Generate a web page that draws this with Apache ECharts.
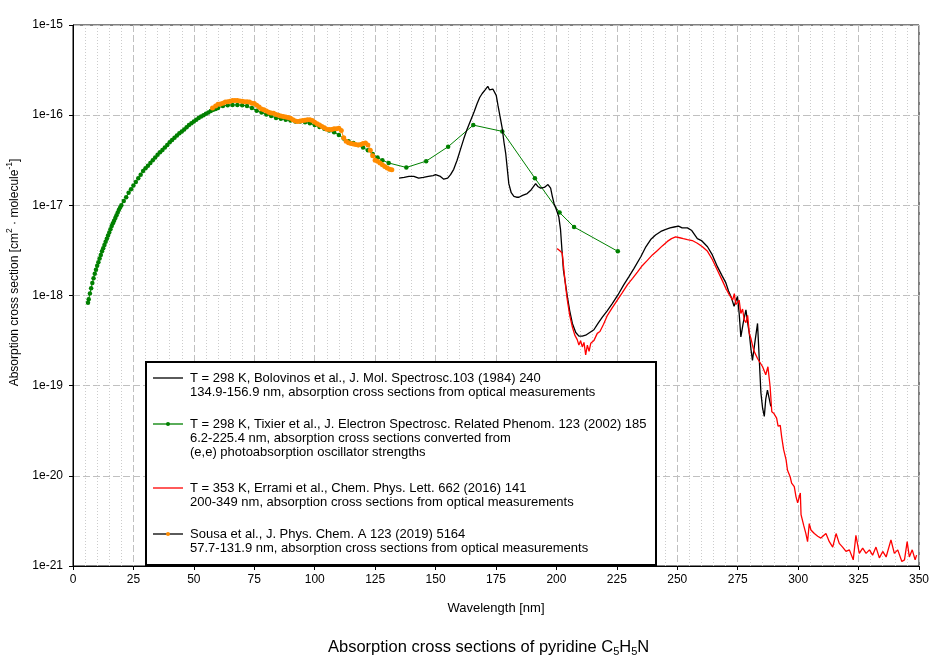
<!DOCTYPE html>
<html lang="en" style="height: 100%">
<head>
  <meta charset="utf-8">
  <title>Absorption cross sections of pyridine</title>
</head>
<body style="height: 100%; margin: 0; background: #fff;">
  <div id="container" style="width: 944px; height: 662px;"></div>

  <script type="text/javascript" src="https://cdn.jsdelivr.net/npm/echarts@6/dist/echarts.min.js"></script>
  <script type="text/javascript">
    // Bolovinos et al. 1984 (black)
    var blackX = [134.9, 137, 139, 141, 143, 145, 147, 149, 150, 152, 153.4, 155, 156.2, 157.5, 158.9, 160.3, 161.7, 163, 164.5, 166,
      167.2, 168.3, 169.3, 170.5, 171.6, 172.3, 173, 173.7, 174.4, 175.1, 175.8, 176.7, 177.6, 178.3, 179, 180.3, 181.3, 182.4, 183.5, 184.5,
      186, 187.9, 189.5, 191.4, 192.3, 193.5, 195, 196.5, 197.6, 198.3, 199, 200, 201, 201.7, 202.3, 202.9, 203.8, 204.5, 205.5, 206.6,
      208, 209.3, 210.7, 212.1, 213.8, 215.5, 217.2, 219, 221, 223.1, 225.5, 227.9, 230, 232.1, 234.9, 237, 239, 241, 243.2, 245,
      247, 248.7, 250.5, 252, 254.2, 256, 258.3, 260, 262.5, 264.5, 266.6, 268.5, 270.1, 271.2, 272.2, 273.5, 274.9, 275.6, 276.3, 277.3,
      278.4, 279.1, 279.8, 280.5, 281.1, 282.2, 283.2, 283.9, 284.6, 285.3, 286, 286.6, 287.3, 288.7];
    var blackY = [2.00e-17, 2.04e-17, 2.09e-17, 2.09e-17, 2.00e-17, 2.04e-17, 2.09e-17, 2.14e-17, 2.19e-17, 2.09e-17, 1.95e-17, 2.00e-17, 2.19e-17, 2.51e-17, 3.16e-17, 4.17e-17, 5.50e-17, 6.92e-17, 8.71e-17, 1.10e-16,
      1.35e-16, 1.58e-16, 1.74e-16, 1.91e-16, 2.09e-16, 1.91e-16, 1.82e-16, 1.95e-16, 2.00e-16, 1.66e-16, 1.29e-16, 9.55e-17, 7.08e-17, 5.01e-17, 3.80e-17, 1.74e-17, 1.38e-17, 1.26e-17, 1.23e-17, 1.23e-17,
      1.29e-17, 1.35e-17, 1.48e-17, 1.74e-17, 1.62e-17, 1.55e-17, 1.58e-17, 1.70e-17, 1.55e-17, 1.26e-17, 1.05e-17, 8.91e-18, 7.41e-18, 5.37e-18, 3.16e-18, 1.91e-18, 1.32e-18, 9.77e-19, 6.76e-19, 4.90e-19,
      3.89e-19, 3.55e-19, 3.55e-19, 3.63e-19, 3.89e-19, 4.17e-19, 4.90e-19, 5.75e-19, 6.76e-19, 8.13e-19, 1.02e-18, 1.32e-18, 1.62e-18, 2.00e-18, 2.69e-18, 3.47e-18, 4.17e-18, 4.68e-18, 5.13e-18, 5.37e-18,
      5.62e-18, 5.75e-18, 5.89e-18, 5.62e-18, 5.62e-18, 5.25e-18, 4.27e-18, 4.07e-18, 3.47e-18, 2.82e-18, 2.09e-18, 1.66e-18, 1.38e-18, 1.12e-18, 9.77e-19, 7.59e-19, 9.77e-19, 6.31e-19, 3.47e-19, 5.01e-19,
      6.92e-19, 5.01e-19, 3.80e-19, 2.51e-19, 1.91e-19, 3.16e-19, 4.90e-19, 2.00e-19, 8.32e-20, 5.62e-20, 4.57e-20, 7.08e-20, 8.91e-20, 5.89e-20];

    // Tixier et al. 2002 (green)
    var greenX = [6.2, 6.5, 7, 7.5, 8, 8.5, 9, 9.5, 10, 10.5, 11, 11.5, 12, 12.5, 13, 13.5, 14, 14.5, 15, 15.5, 16, 16.5, 17, 17.5, 18, 18.5, 19, 19.5,
      20, 21, 22, 23, 24, 25, 26, 27, 28, 29, 30, 31, 32, 33, 34, 35, 36, 37, 38, 39, 40, 41, 42, 43, 44, 45, 46, 47, 48, 49, 50,
      51, 52, 53, 54, 55, 56, 57, 58, 59, 60, 62, 64, 66, 68, 70, 72, 74, 76, 78, 80,
      82, 84, 86, 88, 90, 92, 94, 96, 98, 100, 102, 104, 106, 108, 110, 112, 114, 116, 118, 120, 122, 124, 126, 128, 130.6,
      137.9, 146.1, 155.2, 165.6, 177.6, 191.1, 201.3, 207.3, 225.4];
    var greenY = [8.3e-19, 9.1e-19, 1.05e-18, 1.20e-18, 1.38e-18, 1.55e-18, 1.74e-18, 1.93e-18, 2.14e-18, 2.34e-18, 2.57e-18, 2.82e-18, 3.09e-18, 3.35e-18, 3.63e-18, 3.94e-18, 4.27e-18, 4.62e-18, 5.01e-18, 5.43e-18, 5.89e-18, 6.31e-18, 6.76e-18, 7.24e-18, 7.76e-18, 8.32e-18, 8.91e-18, 9.44e-18,
      1.00e-17, 1.12e-17, 1.23e-17, 1.38e-17, 1.51e-17, 1.66e-17, 1.82e-17, 2.00e-17, 2.19e-17, 2.40e-17, 2.57e-17, 2.75e-17, 2.95e-17, 3.16e-17, 3.39e-17, 3.63e-17, 3.89e-17, 4.12e-17, 4.37e-17, 4.68e-17, 5.01e-17, 5.31e-17, 5.62e-17, 5.96e-17, 6.31e-17, 6.61e-17, 6.92e-17, 7.33e-17, 7.76e-17, 8.13e-17, 8.51e-17,
      8.91e-17, 9.33e-17, 9.66e-17, 1.00e-16, 1.04e-16, 1.07e-16, 1.11e-16, 1.15e-16, 1.17e-16, 1.20e-16, 1.26e-16, 1.29e-16, 1.30e-16, 1.30e-16, 1.29e-16, 1.26e-16, 1.20e-16, 1.12e-16, 1.07e-16, 1.02e-16,
      9.77e-17, 9.33e-17, 9.12e-17, 8.91e-17, 8.71e-17, 8.51e-17, 8.51e-17, 8.32e-17, 8.13e-17, 7.76e-17, 7.41e-17, 7.08e-17, 6.76e-17, 6.46e-17, 6.03e-17, 5.50e-17, 5.13e-17, 4.90e-17, 4.68e-17, 4.37e-17, 4.07e-17, 3.72e-17, 3.39e-17, 3.16e-17, 2.95e-17,
      2.63e-17, 3.09e-17, 4.47e-17, 7.76e-17, 6.61e-17, 2.00e-17, 8.32e-18, 5.75e-18, 3.09e-18];

    // Errami et al. 2016 (red)
    var redX = [200.3, 201.3, 202.4, 203.1, 203.8, 204.5, 205.5, 206.6, 207.6, 208.6, 209.3, 210, 210.7, 211.4, 212.1, 212.8, 213.5, 214.2, 215.5, 216.9,
      218, 219.5, 221.1, 223, 225.2, 227.2, 229.4, 231.5, 233.5, 235.5, 237.6, 239.7, 241.8, 243.8, 245.9, 247.6, 249.3, 251, 252.5, 254.2,
      256.2, 258.3, 260.4, 262.5, 264.5, 266.6, 268.4, 270.1, 271.5, 272.9, 273.6, 274.2, 274.9, 275.6, 276.3, 277, 277.7, 278.4, 279.1, 279.8,
      280.5, 281.1, 281.8, 282.5, 283.2, 283.8, 285.3, 286.6, 287.5, 288.4, 289.1, 290, 291.1, 291.7, 292.6, 293.2, 294, 295, 295.6, 296.7,
      297.3, 298.4, 299.1, 299.8, 300.9, 301.2, 302.3, 303.2, 303.9, 304.6, 305.3, 306.7, 308.1, 309.4, 311.5, 312.9, 314.3, 315.7, 317, 318.4,
      319.8, 321.2, 322.8, 323.9, 325.3, 326.7, 328.1, 329.5, 330.8, 332.2, 333.6, 335, 336.4, 338.4, 339.8, 341.2, 342.9, 344, 345.1, 346,
      347.2, 348.4, 349];
    var redY = [3.31e-18, 3.16e-18, 2.95e-18, 1.91e-18, 1.26e-18, 8.91e-19, 6.03e-19, 4.47e-19, 3.63e-19, 3.24e-19, 2.82e-19, 3.16e-19, 2.69e-19, 3.02e-19, 2.19e-19, 2.82e-19, 2.40e-19, 2.95e-19, 3.16e-19, 3.80e-19,
      3.98e-19, 4.79e-19, 6.03e-19, 7.24e-19, 8.91e-19, 1.07e-18, 1.32e-18, 1.55e-18, 1.82e-18, 2.14e-18, 2.45e-18, 2.82e-18, 3.16e-18, 3.55e-18, 3.98e-18, 4.27e-18, 4.47e-18, 4.37e-18, 4.27e-18, 4.17e-18,
      4.07e-18, 3.80e-18, 3.47e-18, 3.09e-18, 2.51e-18, 1.91e-18, 1.51e-18, 1.20e-18, 1.02e-18, 8.91e-19, 1.05e-18, 7.94e-19, 7.59e-19, 8.91e-19, 6.31e-19, 7.08e-19, 5.37e-19, 5.01e-19, 6.03e-19, 3.80e-19,
      3.31e-19, 2.82e-19, 2.40e-19, 2.29e-19, 2.00e-19, 1.91e-19, 1.62e-19, 1.32e-19, 1.62e-19, 9.77e-20, 5.13e-20, 4.90e-20, 4.37e-20, 3.55e-20, 3.63e-20, 2.69e-20, 1.95e-20, 1.51e-20, 1.15e-20, 9.77e-21,
      8.32e-21, 7.59e-21, 5.89e-21, 5.01e-21, 6.46e-21, 3.72e-21, 2.82e-21, 2.29e-21, 1.86e-21, 2.95e-21, 2.51e-21, 2.29e-21, 2.14e-21, 2.04e-21, 2.29e-21, 1.86e-21, 1.62e-21, 2.29e-21, 1.78e-21, 1.62e-21,
      1.45e-21, 1.51e-21, 1.17e-21, 2.19e-21, 1.38e-21, 1.58e-21, 1.38e-21, 1.51e-21, 1.32e-21, 1.62e-21, 1.23e-21, 1.45e-21, 1.26e-21, 1.95e-21, 1.38e-21, 1.51e-21, 1.12e-21, 1.17e-21, 1.86e-21, 1.26e-21,
      1.51e-21, 1.17e-21, 1.32e-21];

    // Sousa et al. 2019 (orange)
    var orangeX = [57.7, 59, 60, 61, 62, 63, 64, 65, 66, 67, 68, 69, 70, 71, 72, 73, 74, 75, 76, 77, 78, 79, 80, 81, 82, 83, 84, 85, 86, 87, 88, 89, 90,
      91, 92, 93, 94, 95, 96, 97, 98, 99, 100, 101, 102, 103, 104, 105, 106, 107, 108, 109, 110, 111, 112, 113, 114, 115, 116, 117, 118, 119, 120,
      121, 122, 123, 124, 125, 126, 127, 128, 129, 130, 131, 131.9];
    var orangeY = [1.20e-16, 1.26e-16, 1.32e-16, 1.33e-16, 1.36e-16, 1.40e-16, 1.41e-16, 1.43e-16, 1.45e-16, 1.45e-16, 1.45e-16, 1.44e-16, 1.43e-16, 1.41e-16, 1.41e-16, 1.40e-16, 1.36e-16, 1.35e-16, 1.29e-16, 1.23e-16, 1.17e-16, 1.15e-16, 1.11e-16, 1.08e-16, 1.06e-16, 1.05e-16, 1.02e-16, 1.00e-16, 9.77e-17, 9.66e-17, 9.55e-17, 9.44e-17, 9.23e-17,
      8.91e-17, 8.61e-17, 8.51e-17, 8.61e-17, 8.71e-17, 8.81e-17, 8.91e-17, 8.91e-17, 8.71e-17, 8.32e-17, 8.04e-17, 7.76e-17, 7.50e-17, 7.24e-17, 7.00e-17, 6.92e-17, 6.92e-17, 7.08e-17, 7.08e-17, 7.16e-17, 6.76e-17, 5.62e-17, 5.13e-17, 4.95e-17, 4.84e-17, 4.79e-17, 4.73e-17, 4.68e-17, 4.73e-17, 4.84e-17,
      4.90e-17, 4.68e-17, 4.07e-17, 3.55e-17, 3.16e-17, 3.09e-17, 2.95e-17, 2.82e-17, 2.69e-17, 2.60e-17, 2.51e-17, 2.48e-17];

    var legendLines = [
      'T = 298 K, Bolovinos et al., J. Mol. Spectrosc.103 (1984) 240\n134.9-156.9 nm, absorption cross sections from optical measurements',
      'T = 298 K, Tixier et al., J. Electron Spectrosc. Related Phenom. 123 (2002) 185\n6.2-225.4 nm, absorption cross sections converted from\n(e,e) photoabsorption oscillator strengths',
      'T = 353 K, Errami et al., Chem. Phys. Lett. 662 (2016) 141\n200-349 nm, absorption cross sections from optical measurements',
      'Sousa et al., J. Phys. Chem. A 123 (2019) 5164\n57.7-131.9 nm, absorption cross sections from optical measurements'
    ];
    var legendLineColor = ['#000000', '#008000', '#ff0000', '#000000'];
    var legendDotColor = [null, '#008000', null, '#ff8c00'];

    function pairs(xs, ys) {
      return xs.map(function (x, i) { return [x, ys[i]]; });
    }

    // log minor grid lines (2..9 in every decade)
    var minorLines = [];
    for (var e = -21; e < -15; e++) {
      for (var m = 2; m <= 9; m++) {
        minorLines.push({ yAxis: m * Math.pow(10, e) });
      }
    }

    var FONT = "'Liberation Sans', Arial, sans-serif";

    // legend box drawn by hand so the key sits on the first text line
    var legendRowY = [378, 424, 488, 534];
    var legendGraphic = [{
      type: 'rect',
      shape: { x: 146, y: 362, width: 510, height: 203 },
      style: { fill: '#fff', stroke: '#000', lineWidth: 2 },
      z: 100
    }];
    legendLines.forEach(function (txt, i) {
      var y = legendRowY[i];
      legendGraphic.push({
        type: 'line',
        shape: { x1: 153, y1: y, x2: 183, y2: y },
        style: { stroke: legendLineColor[i], lineWidth: 1.3 },
        z: 101
      });
      if (legendDotColor[i]) {
        legendGraphic.push({
          type: 'circle',
          shape: { cx: 168, cy: y, r: 2 },
          style: { fill: legendDotColor[i] },
          z: 102
        });
      }
      legendGraphic.push({
        type: 'text',
        x: 190,
        y: y - 7,
        style: {
          text: txt, fill: '#000', fontSize: 13, fontFamily: FONT,
          lineHeight: 14, verticalAlign: 'top', align: 'left'
        },
        z: 101
      });
    });

    var myChart = echarts.init(document.getElementById('container'), null, { renderer: 'canvas' });

    var option = {
      animation: false,
      backgroundColor: '#ffffff',
      textStyle: { fontFamily: FONT, color: '#000' },
      title: {
        text: '{a|Absorption cross sections of pyridine C}{s|5}{a|H}{s|5}{a|N}',
        left: 323,
        top: 632,
        textStyle: {
          fontWeight: 'normal',
          rich: {
            a: { fontSize: 16.5, fontFamily: FONT, fontWeight: 'normal', color: '#000', lineHeight: 20 },
            s: { fontSize: 11, fontFamily: FONT, fontWeight: 'normal', color: '#000', lineHeight: 12, padding: [9, 0, 0, 0] }
          }
        }
      },
      grid: {
        left: 73, right: 25, top: 25, bottom: 96,
        outerBoundsMode: 'none',
        containLabel: false,
        show: true, borderColor: '#000', borderWidth: 1, backgroundColor: 'transparent'
      },
      graphic: legendGraphic,
      xAxis: {
        type: 'value',
        min: 0,
        max: 350,
        interval: 25,
        name: 'Wavelength [nm]',
        nameLocation: 'middle',
        nameGap: 36,
        nameTextStyle: { fontSize: 13, fontFamily: FONT, color: '#000' },
        axisLine: { lineStyle: { color: '#000', width: 1 } },
        axisTick: { show: true, inside: false, length: 4, lineStyle: { color: '#000' } },
        axisLabel: { fontSize: 12, color: '#000', margin: 8, showMinLabel: true, showMaxLabel: true },
        splitLine: { show: true, lineStyle: { color: '#c0c0c0', type: [7, 3], width: 1 } },
        minorTick: { show: false, splitNumber: 5 },
        minorSplitLine: { show: true, lineStyle: { color: '#cccccc', type: [1, 2], width: 1 } }
      },
      yAxis: {
        type: 'log',
        logBase: 10,
        min: 0.9999999e-21,
        max: 1e-15,
        splitNumber: 6,
        name: '{t|Absorption cross section [cm}{p|2}{t| · molecule}{p|-1}{t|]}',
        nameLocation: 'middle',
        nameRotate: 90,
        nameGap: 50,
        nameMoveOverlap: false,
        nameTextStyle: {
          padding: [0, 0, 0, 46],
          rich: {
            t: { fontSize: 12, fontFamily: FONT, color: '#000', lineHeight: 16 },
            p: { fontSize: 8.5, fontFamily: FONT, color: '#000', lineHeight: 10, padding: [0, 0, 10, 0] }
          }
        },
        axisLine: { show: true, lineStyle: { color: '#000', width: 1 } },
        axisTick: { show: true, inside: false, length: 4, lineStyle: { color: '#000' } },
        axisLabel: {
          fontSize: 12, color: '#000', margin: 10, showMinLabel: true, showMaxLabel: true,
          formatter: function (v) { return '1e' + Math.round(Math.log10(v)); }
        },
        splitLine: { show: true, lineStyle: { color: '#c0c0c0', type: [7, 3], width: 1 } }
      },
      series: [
        {
          name: 'minor-grid',
          type: 'line',
          data: pairs(greenX, greenY),
          symbol: 'none',
          silent: true,
          z: 1,
          lineStyle: { opacity: 0 },
          markLine: {
            silent: true,
            symbol: ['none', 'none'],
            label: { show: false },
            lineStyle: { color: '#cccccc', type: [1, 2], width: 1 },
            emphasis: { disabled: true },
            data: minorLines
          }
        },
        {
          name: 'Bolovinos',
          type: 'line',
          data: pairs(blackX, blackY),
          symbol: 'none',
          z: 3,
          lineStyle: { color: '#000', width: 1.3 },
          itemStyle: { color: '#000' }
        },
        {
          name: 'Tixier',
          type: 'line',
          data: pairs(greenX, greenY),
          symbol: 'circle',
          symbolSize: 4.5,
          showAllSymbol: true,
          z: 2,
          lineStyle: { color: '#008000', width: 1 },
          itemStyle: { color: '#008000' }
        },
        {
          name: 'Errami',
          type: 'line',
          data: pairs(redX, redY),
          symbol: 'none',
          z: 4,
          lineStyle: { color: '#ff0000', width: 1.3 },
          itemStyle: { color: '#ff0000' }
        },
        {
          name: 'Sousa',
          type: 'line',
          data: pairs(orangeX, orangeY),
          symbol: 'circle',
          symbolSize: 5,
          showAllSymbol: true,
          z: 5,
          lineStyle: { color: '#ff8c00', width: 1 },
          itemStyle: { color: '#ff8c00' }
        }
      ]
    };

    myChart.setOption(option);
    window.addEventListener('resize', myChart.resize);
  </script>
</body>
</html>
